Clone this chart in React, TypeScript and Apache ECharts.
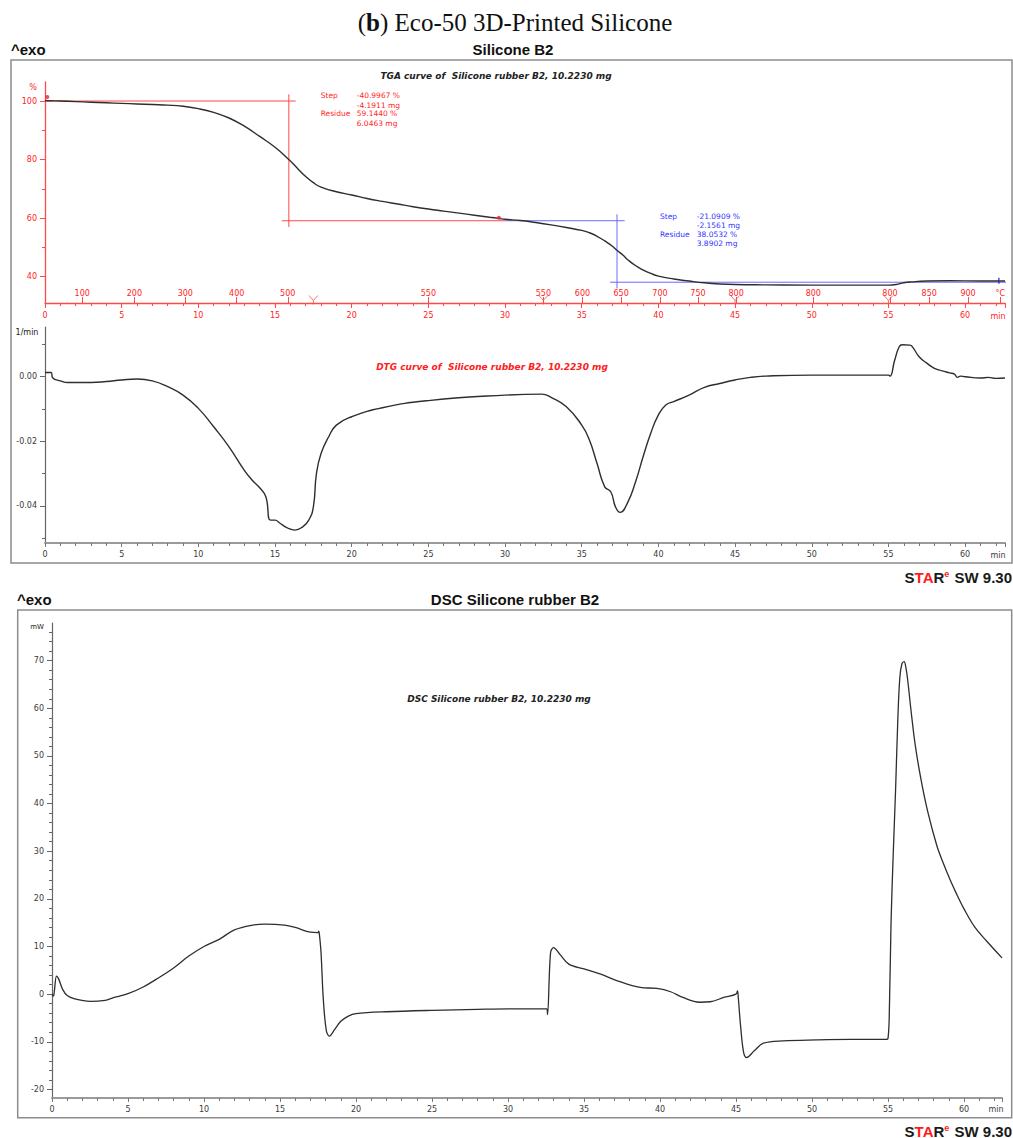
import React, { useEffect, useRef } from "react";
import * as echarts from "echarts";

// ---------- DATA ----------
const tgaTime = [0, 0.3, 1, 2, 3, 4, 5, 6, 7, 8, 9, 10, 11, 12, 13, 14, 15, 15.9, 16.5, 17, 17.5, 18, 19, 20, 21, 22, 23, 24, 25, 26, 27, 28, 29, 29.6, 30, 31, 32, 33, 34, 35, 35.5, 36, 36.5, 37, 37.3, 37.7, 38, 38.5, 39, 39.5, 40, 41, 42, 43, 44, 45, 47, 50, 54, 55, 55.5, 56, 56.5, 57.5, 59, 61, 62.6];
const tgaPct = [100.2, 100.1, 100.0, 99.8, 99.6, 99.4, 99.2, 99.0, 98.8, 98.6, 98.2, 97.4, 96.1, 94.2, 91.4, 87.9, 84.2, 80.0, 76.8, 74.2, 72.1, 70.6, 69.0, 67.9, 66.7, 65.7, 64.8, 63.9, 63.1, 62.4, 61.7, 61.0, 60.3, 59.9, 59.6, 59.2, 58.5, 57.7, 56.8, 55.8, 55.0, 53.8, 52.2, 50.4, 49.0, 47.3, 45.8, 43.8, 42.3, 41.1, 40.2, 39.2, 38.5, 37.9, 37.5, 37.3, 37.2, 37.1, 37.1, 37.1, 37.3, 37.9, 38.2, 38.5, 38.6, 38.5, 38.5];

const dtgTime = [0, 0.4, 0.5, 1, 1.5, 3, 4, 5, 6, 7, 8, 9, 10, 11, 12, 13, 13.5, 14, 14.4, 14.7, 15, 15.3, 15.8, 16.3, 16.8, 17.2, 17.5, 17.7, 18, 18.5, 19, 20, 22, 25, 30, 32.4, 33, 34, 35, 35.5, 36, 36.5, 36.9, 37.2, 37.5, 38, 38.5, 39, 39.5, 40, 40.5, 41, 42, 43, 44, 45, 46, 47, 50, 55, 55.1, 55.4, 55.7, 55.9, 56.4, 56.6, 57, 57.5, 58, 58.5, 59, 59.3, 59.5, 59.7, 60, 61, 61.5, 62, 62.6];
const dtgRate = [0.0013, 0.0013, -0.0003, -0.0013, -0.0018, -0.0018, -0.0015, -0.0010, -0.0007, -0.0013, -0.0031, -0.0057, -0.0098, -0.0155, -0.0217, -0.0290, -0.0320, -0.0344, -0.0372, -0.0444, -0.0444, -0.0453, -0.0468, -0.0475, -0.0465, -0.0444, -0.0403, -0.0300, -0.0238, -0.0186, -0.0150, -0.0124, -0.0096, -0.0074, -0.0057, -0.0054, -0.0064, -0.0093, -0.0150, -0.0196, -0.0269, -0.0341, -0.0357, -0.0403, -0.0420, -0.0389, -0.0327, -0.0248, -0.0175, -0.0118, -0.0087, -0.0077, -0.0057, -0.0033, -0.0021, -0.0010, -0.0002, 0.0002, 0.0005, 0.0005, 0.0002, 0.0050, 0.0093, 0.0099, 0.0098, 0.0090, 0.0062, 0.0042, 0.0026, 0.0018, 0.0012, 0.0008, -0.0002, 0.0002, 0.0000, -0.0004, -0.0002, -0.0005, -0.0004];

const dscTime = [0, 0.1, 0.15, 0.3, 0.45, 0.7, 1, 1.5, 2.5, 3.5, 4, 5, 6, 7, 8, 9, 10, 11, 12, 13.2, 14, 15.3, 16, 17, 17.5, 17.55, 17.6, 17.7, 17.85, 18.05, 18.25, 18.6, 19, 19.5, 20, 22, 25, 28, 30, 32.55, 32.6, 32.8, 33.0, 33.4, 34, 35, 36.1, 37.2, 38.7, 39.8, 40.7, 41.5, 42.6, 43.3, 44.2, 45, 45.1, 45.15, 45.3, 45.5, 45.7, 46.2, 46.8, 48.1, 50.3, 52.5, 54.9, 55.0, 55.08, 55.2, 55.35, 55.5, 55.65, 55.78, 55.92, 56.06, 56.18, 56.29, 56.53, 56.8, 57.17, 57.63, 58.22, 58.6, 59.1, 59.5, 60.0, 60.7, 61.5, 62.5];
const dscPower = [0, -0.4, 0.5, 3.8, 3.1, 1.0, -0.3, -1.0, -1.5, -1.3, -0.8, 0.1, 1.5, 3.4, 5.5, 8.0, 10.0, 11.5, 13.5, 14.5, 14.7, 14.5, 14.0, 13.0, 12.9, 13.2, 12.3, 8.7, -1.1, -7.7, -8.8, -7.4, -5.7, -4.6, -4.1, -3.7, -3.4, -3.2, -3.1, -3.1, -4.3, 8.7, 9.75, 8.4, 6.3, 5.3, 4.2, 2.8, 1.4, 1.2, 0.5, -0.7, -1.7, -1.6, -0.7, 0.0, 0.7, -0.7, -6.6, -12.2, -13.3, -11.9, -10.3, -9.8, -9.6, -9.5, -9.5, -9.3, -5.0, 15.0, 30.0, 43.0, 58.0, 66.5, 69.4, 69.8, 68.5, 66.1, 59.1, 52.1, 45.1, 38.1, 31.1, 27.8, 23.9, 21.1, 17.9, 14.1, 11.1, 7.6];

// TGA evaluation lines (time, %)
const redStepTop = [[0, 100], [16.35, 100]];
const redStepVertical = [[15.9, 102.3], [15.9, 57]];
const redStepResidue = [[15.44, 59.1], [30, 59.1]];
const blueStepTop = [[30, 59.1], [37.8, 59.1]];
const blueStepVertical = [[37.3, 61.3], [37.3, 36]];
const blueStepResidue = [[36.85, 38.1], [62.7, 38.1]];
const redMarkers = [[0.15, 101.4], [29.6, 60.1]];
const blueMarker = [[62.2, 38.6]];

// temperature scale on TGA axis
const tempTimes = [2.43, 5.83, 9.15, 12.5, 15.83, 25.0, 32.5, 35.05, 37.57, 40.1, 42.58, 45.07, 50.1, 55.1, 57.66, 60.19, 62.3];
const tempLabels = ["100", "200", "300", "400", "500", "550", "550", "600", "650", "700", "750", "800", "800", "800", "850", "900", "°C"];
const segmentBreaks = [17.5, 32.5, 45, 55];

// tick labels
const tgaMajor = [40, 60, 80, 100];
const tgaMinor = [50, 70, 90];
const dtgMajor = [-0.04, -0.02, 0.0];
const dtgMinor = [-0.05, -0.03, -0.01, 0.01];
const dscMajor = [-20, -10, 0, 10, 20, 30, 40, 50, 60, 70];

const zip = (xs: number[], ys: number[]) => xs.map((x, i) => [x, ys[i]]);

const RED = "#ff4a4a";
const RED_TXT = "#ff2424";
const BLUE = "#6a6aff";
const BLUE_TXT = "#3434ff";
const CURVE = "#2e2e2e";
const TICK_FONT = '"DejaVu Sans", sans-serif';
const HEAD_FONT = '"Liberation Sans", Arial, sans-serif';

function buildOption() {
  const dscMinor: number[] = [];
  for (let v = -20; v <= 76; v += 2) if (v % 10 !== 0) dscMinor.push(v);

  const grayAxis = {
    axisLine: { show: true, onZero: false, lineStyle: { color: "#9a9a9a", width: 2 } },
    axisTick: { show: true, length: 4, lineStyle: { color: "#777", width: 1 } },
    minorTick: { show: true, splitNumber: 5, length: 3, lineStyle: { color: "#777", width: 1 } },
    axisLabel: { color: "#3a3a3a", fontSize: 8, fontFamily: TICK_FONT, margin: 7, showMaxLabel: false },
    splitLine: { show: false },
  };

  const lineSeries = (data: number[][], xi: number, yi: number, color: string, width: number, smooth: number | boolean) => ({
    type: "line",
    xAxisIndex: xi,
    yAxisIndex: yi,
    data,
    symbol: "none",
    smooth,
    lineStyle: { color, width },
    silent: true,
    z: 3,
  });

  const txt = (text: string, x: number, y: number, fill: string, size: number, opts: any = {}) => ({
    type: "text",
    x,
    y,
    silent: true,
    style: {
      text,
      fill,
      fontSize: size,
      fontFamily: opts.family || TICK_FONT,
      fontWeight: opts.weight || "normal",
      fontStyle: opts.style || "normal",
      textAlign: opts.align || "left",
      textVerticalAlign: "middle",
      rich: opts.rich,
    },
  });

  const starRich = {
    k: { fill: "#1a1a1a", fontSize: 15, fontWeight: "bold", fontFamily: HEAD_FONT },
    r: { fill: "#ff1a1a", fontSize: 15, fontWeight: "bold", fontFamily: HEAD_FONT },
    e: { fill: "#ff1a1a", fontSize: 9, fontWeight: "bold", fontFamily: HEAD_FONT, verticalAlign: "top", padding: [0, 1, 6, 0] },
  };
  const starText = "{k|S}{r|TA}{k|R}{e|e}{k| SW 9.30}";

  return {
    animation: false,
    backgroundColor: "#ffffff",
    grid: [
      { left: 45, top: 82, width: 960, height: 221, containLabel: false },
      { left: 45, top: 327, width: 960, height: 216, containLabel: false },
      { left: 52, top: 623, width: 950, height: 475, containLabel: false },
    ],
    xAxis: [
      {
        type: "value", gridIndex: 0, min: 0, max: 62.6, interval: 5, position: "bottom",
        axisLine: { show: true, onZero: false, lineStyle: { color: RED, width: 1.3 } },
        axisTick: { show: true, length: 5, lineStyle: { color: RED } },
        minorTick: { show: true, splitNumber: 5, length: 3, lineStyle: { color: RED } },
        axisLabel: { color: RED_TXT, fontSize: 8, fontFamily: TICK_FONT, margin: 8, showMaxLabel: false },
        splitLine: { show: false },
      },
      {
        type: "value", gridIndex: 0, min: 0, max: 62.6, position: "bottom",
        axisLine: { show: false },
        axisTick: { show: true, inside: true, length: 6, customValues: tempTimes, lineStyle: { color: RED } },
        axisLabel: {
          show: true, inside: true, margin: 6, customValues: tempTimes,
          color: RED_TXT, fontSize: 8, fontFamily: TICK_FONT,
          formatter: (v: number) => {
            let best = 0;
            tempTimes.forEach((t, i) => { if (Math.abs(t - v) < Math.abs(tempTimes[best] - v)) best = i; });
            return tempLabels[best];
          },
        },
        splitLine: { show: false },
      },
      { type: "value", gridIndex: 1, min: 0, max: 62.6, interval: 5, position: "bottom", ...grayAxis },
      { type: "value", gridIndex: 2, min: 0, max: 62.5, interval: 5, position: "bottom", ...grayAxis },
    ],
    yAxis: [
      {
        type: "value", gridIndex: 0, min: 31, max: 106.5, position: "left",
        axisLine: { show: true, onZero: false, lineStyle: { color: RED, width: 1.3 } },
        axisTick: { show: true, length: 5, customValues: tgaMajor, lineStyle: { color: RED } },
        axisLabel: { customValues: tgaMajor, color: RED_TXT, fontSize: 8, fontFamily: TICK_FONT, margin: 8 },
        splitLine: { show: false },
      },
      {
        type: "value", gridIndex: 0, min: 31, max: 106.5, position: "left",
        axisLine: { show: false },
        axisTick: { show: true, length: 3, customValues: tgaMinor, lineStyle: { color: RED } },
        axisLabel: { show: false },
        splitLine: { show: false },
      },
      {
        type: "value", gridIndex: 1, min: -0.0515, max: 0.0154, position: "left",
        axisLine: { show: true, onZero: false, lineStyle: { color: "#666", width: 1.2 } },
        axisTick: { show: true, length: 5, customValues: dtgMajor, lineStyle: { color: "#666" } },
        axisLabel: {
          customValues: dtgMajor, color: "#3a3a3a", fontSize: 8, fontFamily: TICK_FONT, margin: 8,
          formatter: (v: number) => v.toFixed(2),
        },
        splitLine: { show: false },
      },
      {
        type: "value", gridIndex: 1, min: -0.0515, max: 0.0154, position: "left",
        axisLine: { show: false },
        axisTick: { show: true, length: 3, customValues: dtgMinor, lineStyle: { color: "#666" } },
        axisLabel: { show: false },
        splitLine: { show: false },
      },
      {
        type: "value", gridIndex: 2, min: -21.8, max: 77.9, position: "left",
        axisLine: { show: true, onZero: false, lineStyle: { color: "#666", width: 1.2 } },
        axisTick: { show: true, length: 5, customValues: dscMajor, lineStyle: { color: "#666" } },
        axisLabel: { customValues: dscMajor, color: "#3a3a3a", fontSize: 8, fontFamily: TICK_FONT, margin: 8 },
        splitLine: { show: false },
      },
      {
        type: "value", gridIndex: 2, min: -21.8, max: 77.9, position: "left",
        axisLine: { show: false },
        axisTick: { show: true, length: 3, customValues: dscMinor, lineStyle: { color: "#666" } },
        axisLabel: { show: false },
        splitLine: { show: false },
      },
    ],
    series: [
      lineSeries(redStepTop, 0, 0, RED, 1, false),
      lineSeries(redStepVertical, 0, 0, RED, 1, false),
      lineSeries(redStepResidue, 0, 0, RED, 1, false),
      lineSeries(blueStepTop, 0, 0, BLUE, 1, false),
      lineSeries(blueStepVertical, 0, 0, BLUE, 1, false),
      lineSeries(blueStepResidue, 0, 0, BLUE, 1, false),
      { ...lineSeries(zip(tgaTime, tgaPct), 0, 0, CURVE, 1.4, 0.5), z: 4 },
      {
        type: "scatter", xAxisIndex: 0, yAxisIndex: 0, data: redMarkers,
        symbol: "circle", symbolSize: 4, itemStyle: { color: "#e8203a" }, silent: true, z: 5,
      },
      {
        type: "scatter", xAxisIndex: 0, yAxisIndex: 0, data: blueMarker,
        symbol: "rect", symbolSize: [1.5, 6], itemStyle: { color: "#2020d0" }, silent: true, z: 5,
      },
      {
        type: "scatter", xAxisIndex: 0, yAxisIndex: 0,
        data: segmentBreaks.map((t) => [t, 31]),
        symbol: "path://M0,0L5,6L10,0M5,6L5,11", symbolSize: [9, 9], symbolOffset: [0, -3],
        itemStyle: { color: "none", borderColor: RED, borderWidth: 1 }, silent: true, z: 5,
      },
      lineSeries(zip(dtgTime, dtgRate), 2, 2, CURVE, 1.4, 0.5),
      lineSeries(zip(dscTime, dscPower), 3, 4, CURVE, 1.3, 0.35),
    ],
    graphic: [
      {
        type: "text", x: 515, y: 22, silent: true,
        style: {
          text: "({b|b}) Eco-50 3D-Printed Silicone",
          fill: "#111", fontSize: 25, fontFamily: '"Liberation Serif", "DejaVu Serif", serif',
          textAlign: "center", textVerticalAlign: "middle",
          rich: { b: { fontWeight: "bold", fontSize: 25, fontFamily: '"Liberation Serif", serif', fill: "#111" } },
        },
      },
      // top panel
      txt("^exo", 11, 49, "#111", 15, { family: HEAD_FONT, weight: "bold" }),
      txt("Silicone B2", 513, 49, "#111", 15, { family: HEAD_FONT, weight: "bold", align: "center" }),
      { type: "rect", silent: true, shape: { x: 11, y: 60, width: 1001, height: 503 }, style: { fill: "none", stroke: "#8c8c8c", lineWidth: 1.5 } },
      txt("TGA curve of  Silicone rubber B2, 10.2230 mg", 496, 76, "#222", 9, { weight: "bold", style: "italic", align: "center" }),
      txt("%", 33, 87, RED_TXT, 8, { align: "center" }),
      txt("Step", 320.7, 95.7, RED_TXT, 7.5),
      txt("-40.9967 %", 356.7, 95.7, RED_TXT, 7.5),
      txt("-4.1911 mg", 356.7, 105, RED_TXT, 7.5),
      txt("Residue", 320.7, 113.7, RED_TXT, 7.5),
      txt("59.1440 %", 356.7, 113.7, RED_TXT, 7.5),
      txt("6.0463 mg", 356.7, 123.3, RED_TXT, 7.5),
      txt("Step", 660, 216, BLUE_TXT, 7.5),
      txt("-21.0909 %", 696.7, 216, BLUE_TXT, 7.5),
      txt("-2.1561 mg", 696.7, 225, BLUE_TXT, 7.5),
      txt("Residue", 660, 234.3, BLUE_TXT, 7.5),
      txt("38.0532 %", 696.7, 234.3, BLUE_TXT, 7.5),
      txt("3.8902 mg", 696.7, 243, BLUE_TXT, 7.5),
      txt("min", 998, 316, RED_TXT, 8, { align: "center" }),
      txt("1/min", 27, 332, "#222", 8, { align: "center" }),
      txt("DTG curve of  Silicone rubber B2, 10.2230 mg", 492, 367, "#ff2020", 9, { weight: "bold", style: "italic", align: "center" }),
      txt("min", 998, 555, "#3a3a3a", 8, { align: "center" }),
      txt(starText, 1012, 577, "#111", 15, { family: HEAD_FONT, weight: "bold", align: "right", rich: starRich }),
      // DSC panel
      txt("^exo", 17, 599, "#111", 15, { family: HEAD_FONT, weight: "bold" }),
      txt("DSC Silicone rubber B2", 515, 599, "#111", 15, { family: HEAD_FONT, weight: "bold", align: "center" }),
      { type: "rect", silent: true, shape: { x: 17.7, y: 610, width: 994, height: 507.7 }, style: { fill: "none", stroke: "#8c8c8c", lineWidth: 1.5 } },
      txt("mW", 37, 627, "#222", 7, { align: "center" }),
      txt("DSC Silicone rubber B2, 10.2230 mg", 499, 699, "#222", 9, { weight: "bold", style: "italic", align: "center" }),
      txt("min", 996, 1109, "#3a3a3a", 8, { align: "center" }),
      txt(starText, 1012, 1131, "#111", 15, { family: HEAD_FONT, weight: "bold", align: "right", rich: starRich }),
    ],
  };
}

export default function App() {
  const ref = useRef<HTMLDivElement>(null);
  useEffect(() => {
    document.body.style.margin = "0";
    const chart = echarts.init(ref.current!, null, { renderer: "svg" });
    chart.setOption(buildOption() as any);
    return () => chart.dispose();
  }, []);
  return <div ref={ref} style={{ width: 1013, height: 1138 }} />;
}
